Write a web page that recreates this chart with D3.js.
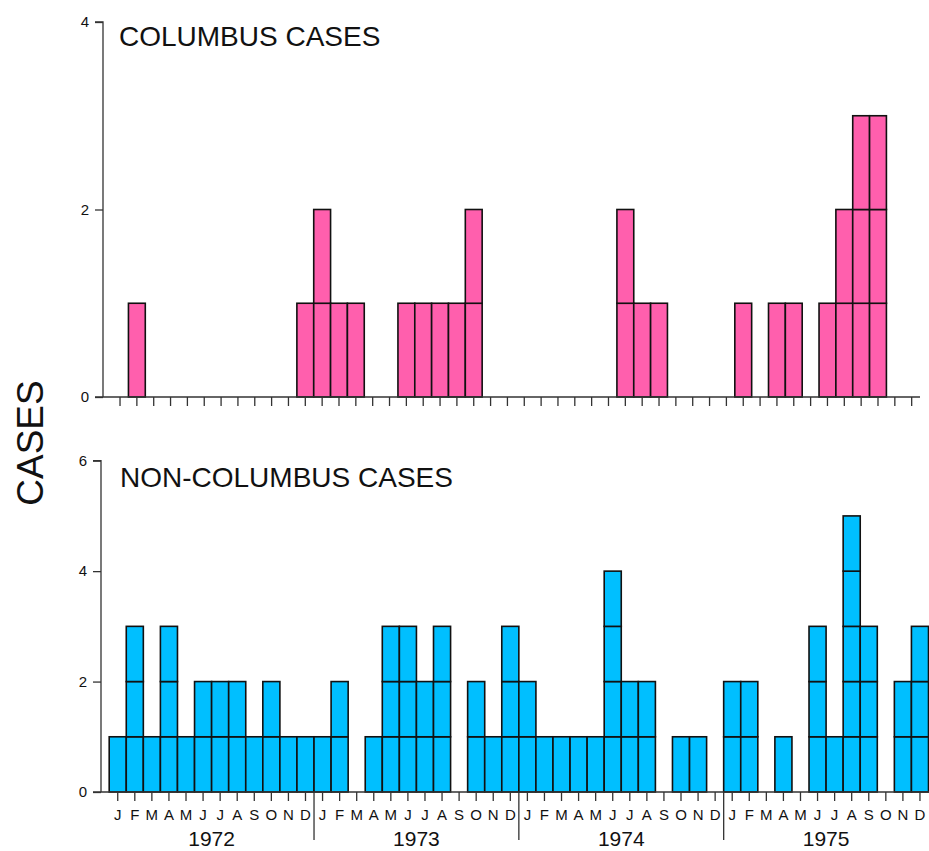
<!DOCTYPE html>
<html>
<head>
<meta charset="utf-8">
<script src="https://cdn.jsdelivr.net/npm/d3@7"></script>
<style>
  body { margin: 0; background: #fff; }
  svg text { font-family: "Liberation Sans", Arial, sans-serif; fill: #111; }
</style>
</head>
<body>
<div id="chart"></div>
<script>
// 월 / 연도 라벨
const monthLabels = ["J", "F", "M", "A", "M", "J", "J", "A", "S", "O", "N", "D"];
const years = [1972, 1973, 1974, 1975];

// 월별 환자 수 (1972.1 ~ 1975.12)
const columbusCases = [
  0, 1, 0, 0, 0, 0, 0, 0, 0, 0, 0, 1,
  2, 1, 1, 0, 0, 1, 1, 1, 1, 2, 0, 0,
  0, 0, 0, 0, 0, 0, 2, 1, 1, 0, 0, 0,
  0, 1, 0, 1, 1, 0, 1, 2, 3, 3, 0, 0,
];
const nonColumbusCases = [
  1, 3, 1, 3, 1, 2, 2, 2, 1, 2, 1, 1,
  1, 2, 0, 1, 3, 3, 2, 3, 0, 2, 1, 3,
  2, 1, 1, 1, 1, 4, 2, 2, 0, 1, 1, 0,
  2, 2, 0, 1, 0, 3, 1, 5, 3, 0, 2, 3,
];
const topTicks = [0, 2, 4];
const bottomTicks = [0, 2, 4, 6];

const W = 929, H = 851;
const svg = d3.select("#chart").append("svg").attr("width", W).attr("height", H);

const monthIdx = d3.range(years.length * 12);

// 세로 라벨
svg.append("text")
  .attr("transform", "translate(43,443) rotate(-90)")
  .attr("text-anchor", "middle")
  .style("font-size", "37px")
  .text("CASES");

function drawPanel(opt) {
  const x = d3.scaleBand().domain(monthIdx).range(opt.xRange).padding(0);
  const y = d3.scaleLinear().domain(opt.yDomain).range(opt.yRange);
  const g = svg.append("g");

  // 막대: 한 칸 = 1건
  const cells = opt.values.flatMap((v, i) => d3.range(v).map((k) => ({ i, k })));
  g.selectAll(".cell")
    .data(cells)
    .enter()
    .append("rect")
    .attr("class", "cell")
    .attr("x", (d) => x(d.i))
    .attr("y", (d) => y(d.k + 1))
    .attr("width", x.bandwidth())
    .attr("height", (d) => y(d.k) - y(d.k + 1))
    .attr("fill", opt.color)
    .attr("stroke", "#111")
    .attr("stroke-width", 1.6);

  // y축
  const yAxis = g.append("g")
    .attr("transform", `translate(${opt.axisX},0)`)
    .call(d3.axisLeft(y).tickValues(opt.ticks).tickFormat(d3.format("d")).tickSize(8).tickPadding(6));
  yAxis.select(".domain").attr("d", `M-8,${y(opt.yDomain[1])}H0V${y(0)}`).attr("stroke", "#333").attr("stroke-width", 1.3);
  yAxis.selectAll(".tick line").attr("stroke", "#333").attr("stroke-width", 1.3);
  yAxis.selectAll(".tick text").attr("font-size", 15).style("font-size", "15px").attr("fill", "#111");

  // x축
  const y0 = y(0);
  g.append("line")
    .attr("x1", opt.axisX - 8).attr("x2", opt.xLineEnd)
    .attr("y1", y0).attr("y2", y0)
    .attr("stroke", "#333").attr("stroke-width", 1.3);
  g.selectAll(".mtick")
    .data(monthIdx)
    .enter()
    .append("line")
    .attr("x1", (d) => x(d) + x.bandwidth() / 2)
    .attr("x2", (d) => x(d) + x.bandwidth() / 2)
    .attr("y1", y0).attr("y2", y0 + 9)
    .attr("stroke", "#333").attr("stroke-width", 1.3);

  // 제목
  g.append("text")
    .attr("x", opt.titleX).attr("y", opt.titleY)
    .style("font-size", "28px")
    .text(opt.title);

  return { x, y };
}

drawPanel({
  values: columbusCases,
  color: "#ff5fad",
  xRange: [111.6, 920.1],
  yDomain: [0, 4],
  yRange: [397, 22],
  ticks: topTicks,
  axisX: 103,
  xLineEnd: 920,
  title: "COLUMBUS CASES",
  titleX: 119,
  titleY: 46,
});

const bottom = drawPanel({
  values: nonColumbusCases,
  color: "#00bfff",
  xRange: [109.2, 928.5],
  yDomain: [0, 6],
  yRange: [792, 460.7],
  ticks: bottomTicks,
  axisX: 101,
  xLineEnd: 929,
  title: "NON-COLUMBUS CASES",
  titleX: 120,
  titleY: 487,
});

// 월 라벨
const bx = bottom.x;
svg.selectAll(".mlabel")
  .data(monthIdx)
  .enter()
  .append("text")
  .attr("class", "mlabel")
  .attr("x", (d) => bx(d) + bx.bandwidth() / 2)
  .attr("y", 820)
  .attr("text-anchor", "middle")
  .style("font-size", "15px")
  .text((d) => monthLabels[d % 12]);

// 연도 구분선
svg.selectAll(".ydiv")
  .data(years.slice(1))
  .enter()
  .append("line")
  .attr("x1", (d, i) => bx((i + 1) * 12))
  .attr("x2", (d, i) => bx((i + 1) * 12))
  .attr("y1", 792).attr("y2", 840)
  .attr("stroke", "#333").attr("stroke-width", 1.3);

// 연도 라벨
svg.selectAll(".ylabel")
  .data(years)
  .enter()
  .append("text")
  .attr("x", (d, i) => (bx(i * 12) + bx(i * 12 + 11) + bx.bandwidth()) / 2)
  .attr("y", 846)
  .attr("text-anchor", "middle")
  .style("font-size", "21px")
  .text((d) => d);
</script>
</body>
</html>
